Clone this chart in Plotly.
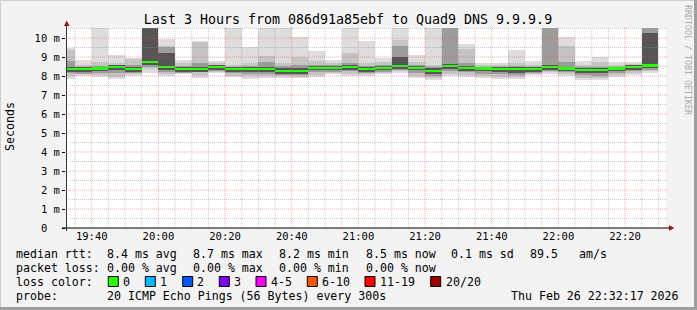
import plotly.graph_objects as go
import pandas as pd

W, H = 697, 310
L, R, T, B = 66, 31, 28, 82
PW, PH = W - L - R, H - T - B          # 600 x 200 px plot area
FONT = "DejaVu Sans Mono"

# ---------------- data ----------------
bar_end = ["19:35", "19:40", "19:45", "19:50", "19:55", "20:00", "20:05", "20:10", "20:15",
           "20:20", "20:25", "20:30", "20:35", "20:40", "20:45", "20:50", "20:55", "21:00",
           "21:05", "21:10", "21:15", "21:20", "21:25", "21:30", "21:35", "21:40", "21:45",
           "21:50", "21:55", "22:00", "22:05", "22:10", "22:15", "22:20", "22:25", "22:30"]

# smoke bands (ms): outermost pair -> innermost pair
ping_max    = [9.46, 8.86, 11, 9.10, 8.97, 11, 9.95, 8.85, 9.86, 8.79, 11, 9.51, 11, 11, 10.07, 9.32, 8.84, 11,
               9.86, 8.95, 11, 9.10, 11, 11, 9.70, 8.67, 8.67, 9.37, 8.81, 11, 10.07, 8.79, 8.98, 8.75, 8.72, 11]
upper_mid   = [9.35, 8.60, 8.75, 8.70, 8.90, 11, 9.60, 8.70, 9.80, 8.70, 8.60, 8.70, 9.05, 8.70, 9.00, 8.80, 8.70, 9.20,
               8.70, 8.75, 9.90, 8.75, 8.60, 11, 9.42, 8.60, 8.60, 8.70, 8.60, 11, 9.58, 8.60, 8.75, 8.60, 8.65, 11]
upper_inner = [8.80, 8.50, 8.55, 8.60, 8.60, 11, 9.54, 8.55, 8.70, 8.60, 8.50, 8.55, 8.75, 8.55, 8.60, 8.60, 8.60, 8.70,
               8.55, 8.60, 9.60, 8.60, 8.50, 11, 8.70, 8.50, 8.50, 8.55, 8.50, 11, 8.75, 8.45, 8.50, 8.50, 8.60, 11]
upper_core  = [8.50, 8.45, 8.50, 8.56, 8.47, 11, 9.20, 8.48, 8.50, 8.57, 8.48, 8.45, 8.50, 8.40, 8.40, 8.54, 8.54, 8.59,
               8.48, 8.54, 9.02, 8.54, 8.40, 8.64, 8.52, 8.50, 8.48, 8.48, 8.48, 8.57, 8.50, 8.43, 8.43, 8.50, 8.59, 10.25]
median_rtt  = [8.35, 8.35, 8.40, 8.46, 8.37, 8.75, 8.46, 8.38, 8.38, 8.47, 8.38, 8.35, 8.35, 8.26, 8.26, 8.44, 8.44, 8.49,
               8.38, 8.44, 8.54, 8.44, 8.28, 8.54, 8.42, 8.40, 8.38, 8.38, 8.38, 8.47, 8.40, 8.33, 8.33, 8.40, 8.49, 8.56]
lower_core  = [8.20, 8.20, 8.25, 8.31, 8.22, 8.60, 8.31, 8.23, 8.23, 8.32, 8.23, 8.20, 8.20, 8.11, 8.11, 8.29, 8.29, 8.34,
               8.23, 8.29, 8.39, 8.29, 8.10, 8.39, 8.27, 8.25, 8.23, 8.15, 8.23, 8.32, 8.25, 8.18, 8.15, 8.25, 8.34, 8.41]
lower_inner = [8.15, 8.12, 8.15, 8.15, 8.15, 8.50, 8.20, 8.18, 8.20, 8.27, 8.15, 8.12, 8.10, 8.05, 8.03, 8.20, 8.22, 8.25,
               8.15, 8.22, 8.32, 8.15, 8.00, 8.25, 8.20, 8.10, 8.10, 8.05, 8.17, 8.25, 8.20, 8.05, 8.00, 8.15, 8.27, 8.33]
lower_mid   = [8.00, 8.10, 8.05, 7.95, 8.10, 8.35, 8.10, 8.15, 8.05, 8.20, 8.00, 8.00, 8.00, 8.00, 7.95, 8.05, 8.15, 8.10,
               8.10, 8.15, 8.25, 8.00, 7.90, 8.10, 8.05, 8.00, 7.95, 7.95, 8.10, 8.20, 8.10, 7.90, 7.90, 8.05, 8.15, 8.25]
ping_min    = [7.82, 8.00, 7.95, 7.85, 8.00, 8.15, 8.00, 8.08, 7.90, 8.15, 7.95, 7.85, 7.92, 7.90, 7.90, 7.95, 8.10, 8.00,
               8.00, 8.10, 8.15, 7.90, 7.80, 8.00, 7.95, 7.90, 7.85, 7.85, 8.05, 8.10, 8.00, 7.80, 7.80, 7.95, 8.05, 8.15]

y_tick_vals = [0, 1, 2, 3, 4, 5, 6, 7, 8, 9, 10]
y_tick_text = ["0\u00a0\u00a0", "1 m", "2 m", "3 m", "4 m", "5 m", "6 m", "7 m", "8 m", "9 m", "10 m"]
x_tick_text = ["19:40", "20:00", "20:20", "20:40", "21:00", "21:20", "21:40", "22:00", "22:20"]

rtt_stats = ["8.4 ms avg", "8.7 ms max", "8.2 ms min", "8.5 ms now", "0.1 ms sd"]
am_s = "89.5"
loss_stats = ["0.00 % avg", "0.00 % max", "0.00 % min", "0.00 % now"]
loss_labels = ["0", "1", "2", "3", "4-5", "6-10", "11-19", "20/20"]
loss_colors = ["#26ff00", "#00b8ff", "#0059ff", "#7e00ff", "#ff00ff", "#ff5500", "#ff0000", "#a10000"]
probe_text = "20 ICMP Echo Pings (56 Bytes) every 300s"
stamp = "Thu Feb 26 22:32:17 2026"
title = "Last 3 Hours from 086d91a85ebf to Quad9 DNS 9.9.9.9"

# ---------------- figure ----------------
DAY = "2026-02-26 "
t_start = pd.Timestamp(DAY + "19:32:17")
t_end = pd.Timestamp(DAY + "22:32:17")
step = pd.Timedelta(minutes=5)
bar_start = [pd.Timestamp(DAY + s) - step for s in bar_end]
width_ms = step.total_seconds() * 1000

fig = go.Figure()
bands = [(ping_min, ping_max, "#dddddd"), (lower_mid, upper_mid, "#c4c4c4"),
         (lower_inner, upper_inner, "#9c9c9c"), (lower_core, upper_core, "#555555")]
for lo, hi, col in bands:
    fig.add_trace(go.Bar(x=bar_start, base=lo, y=[h - l for l, h in zip(lo, hi)],
                         width=width_ms, offset=0, marker=dict(color=col, line=dict(width=0)),
                         hoverinfo="skip", showlegend=False))
med_h = 0.12
fig.add_trace(go.Bar(x=bar_start, base=[m - med_h / 2 for m in median_rtt], y=[med_h] * len(median_rtt),
                     width=width_ms, offset=0, marker=dict(color=loss_colors[0], line=dict(width=0)),
                     hoverinfo="skip", showlegend=False))

def pxx(p):   # pixel x -> paper x
    return (p - L) / PW

def pxy(p):   # pixel y -> paper y
    return (T + PH - p) / PH

shapes = []
GRID = "rgba(150,150,150,0.5)"
MGRID = "rgba(230,70,70,0.45)"
# grid (drawn above the smoke, as rrdtool does)
ymax = PH / 19.0
minor_y = [v + 0.5 for v in y_tick_vals]
for v in minor_y:
    shapes.append(dict(type="line", layer="above", xref="paper", yref="y", x0=0, x1=pxx(668), y0=v, y1=v,
                       line=dict(color=GRID, width=1, dash="1px,1px")))
for v in y_tick_vals[1:]:
    shapes.append(dict(type="line", layer="above", xref="paper", yref="y", x0=0, x1=pxx(668), y0=v, y1=v,
                       line=dict(color=MGRID, width=1, dash="1px,1px")))
major_x = [pd.Timestamp(DAY + s) for s in x_tick_text]
minor_x = [t for t in pd.date_range(DAY + "19:35", DAY + "22:30", freq="5min") if t not in major_x]
for t in minor_x:
    shapes.append(dict(type="line", layer="above", xref="x", yref="paper", x0=t, x1=t, y0=0, y1=1,
                       line=dict(color=GRID, width=1, dash="1px,1px")))
for t in major_x:
    shapes.append(dict(type="line", layer="above", xref="x", yref="paper", x0=t, x1=t, y0=0, y1=pxy(26),
                       line=dict(color=MGRID, width=1, dash="1px,1px")))
# axes + arrows
shapes.append(dict(type="line", layer="above", xref="paper", yref="paper", x0=pxx(66.5), x1=pxx(66.5),
                   y0=pxy(231), y1=pxy(24), line=dict(color="#333333", width=1)))
shapes.append(dict(type="line", layer="above", xref="paper", yref="paper", x0=pxx(62), x1=pxx(670),
                   y0=pxy(228), y1=pxy(228), line=dict(color="#000000", width=1)))
shapes.append(dict(type="path", layer="above", xref="paper", yref="paper",
                   path=f"M {pxx(64)} {pxy(26)} L {pxx(69.5)} {pxy(26)} L {pxx(66.7)} {pxy(20.5)} Z",
                   fillcolor="#a01010", line=dict(width=0)))
shapes.append(dict(type="path", layer="above", xref="paper", yref="paper",
                   path=f"M {pxx(669)} {pxy(225.3)} L {pxx(669)} {pxy(230.7)} L {pxx(674.5)} {pxy(228)} Z",
                   fillcolor="#a01010", line=dict(width=0)))
# image border shading
shapes += [
    dict(type="line", xref="paper", yref="paper", x0=pxx(0), x1=pxx(W), y0=pxy(0.5), y1=pxy(0.5),
         line=dict(color="#cfcfcf", width=1)),
    dict(type="line", xref="paper", yref="paper", x0=pxx(0.5), x1=pxx(0.5), y0=pxy(0), y1=pxy(H),
         line=dict(color="#cfcfcf", width=1)),
    dict(type="line", xref="paper", yref="paper", x0=pxx(0), x1=pxx(W), y0=pxy(308.5), y1=pxy(308.5),
         line=dict(color="#9e9e9e", width=3)),
    dict(type="line", xref="paper", yref="paper", x0=pxx(695.5), x1=pxx(695.5), y0=pxy(0), y1=pxy(H),
         line=dict(color="#9e9e9e", width=3)),
]

ann = []
def text(x, y, s, size=11.6, color="#000000", anchor="left", angle=0):
    ann.append(dict(x=pxx(x), y=pxy(y), xref="paper", yref="paper", text=s, showarrow=False,
                    xanchor=anchor, yanchor="middle", textangle=angle, borderpad=0,
                    font=dict(family=FONT, size=size, color=color)))

# legend lines
row_y = [254, 268.3, 281.7, 296]
col_x = [107.3, 193.3, 279.3, 365.7, 451]
text(15, row_y[0], "median rtt:")
for x, s in zip(col_x, rtt_stats):
    text(x - 1, row_y[0], s)
text(529, row_y[0], am_s)
text(578.3, row_y[0], "am/s")
text(15, row_y[1], "packet loss:")
for x, s in zip(col_x, loss_stats):
    text(x - 1, row_y[1], s)
text(15, row_y[2], "loss color:")
box_x = [108.3, 145.3, 182.7, 219.3, 256, 307.3, 365, 430.7]
lab_x = [123.3, 160, 197.3, 234, 270.7, 322, 380, 445.7]
for bx, lx, lab, col in zip(box_x, lab_x, loss_labels, loss_colors):
    shapes.append(dict(type="rect", xref="paper", yref="paper", x0=pxx(bx), x1=pxx(bx + 10),
                       y0=pxy(276.5), y1=pxy(286.5), fillcolor=col, line=dict(color="#000000", width=1)))
    text(lx - 1, row_y[2], lab)
text(15, row_y[3], "probe:")
text(106.3, row_y[3], probe_text)
text(680, row_y[3], stamp, anchor="right")
# axis title & watermark
text(10, 127, "Seconds", size=11.6, anchor="center", angle=-90)
text(688, 60, "RRDTOOL / TOBI OETIKER", size=8.3, color="#aaaaaa", anchor="center", angle=90)

fig.update_layout(
    width=W, height=H, margin=dict(l=L, r=R, t=T, b=B, autoexpand=False),
    paper_bgcolor="#f3f3f3", plot_bgcolor="#ffffff",
    barmode="overlay", bargap=0,
    title=dict(text=title, x=348 / W, xref="container", xanchor="center",
               y=1 - 19.3 / H, yref="container", yanchor="middle",
               font=dict(family=FONT, size=13.3, color="#000000")),
    xaxis=dict(type="date", range=[t_start, t_end], showgrid=False, zeroline=False, showline=False,
               tickvals=major_x, ticktext=x_tick_text, ticks="", ticklen=0,
               tickfont=dict(family=FONT, size=10.5, color="#000000")),
    yaxis=dict(range=[0, ymax], showgrid=False, zeroline=False, showline=False,
               tickvals=y_tick_vals, ticktext=y_tick_text, ticks="outside", ticklen=3, tickcolor="#000000",
               tickfont=dict(family=FONT, size=10.5, color="#000000")),
    shapes=shapes, annotations=ann, showlegend=False,
)
fig.write_html("out.html")
